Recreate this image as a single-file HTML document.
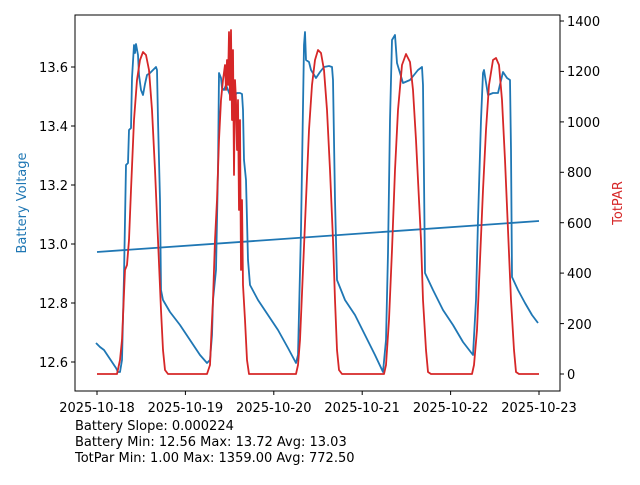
<!DOCTYPE html>
<html><head><meta charset="utf-8"><style>
body{margin:0;background:#fff;}
svg text{font-family:"DejaVu Sans","Liberation Sans",sans-serif;font-size:13px;}
</style></head><body>
<svg width="640" height="480" xmlns="http://www.w3.org/2000/svg">
<rect width="640" height="480" fill="#fff"/>
<g fill="none" stroke-width="1.8" stroke-linejoin="round">
<polyline stroke="#1f77b4" points="96,343 100,347 104,350 108,356 112,362 116,368 118,372 120,372 122,360 124,276 126,165 128,163 129,130 131,128 132,78 134,45 135,53 136,44 138,55 139,75 141,90 143,95 145,84 147,75 150,73 153,70 156,67 157,70 158,120 160,200 161,290 163,300 170,312 180,325 190,340 200,355 207,363 210,360 212,335 213,300 216,270 218,170 219,73 221,78 222,88 224,90 226,85 228,90 230,95 233,97 237,93 240,93 242,94 243,110 244,160 246,180 248,260 250,285 258,300 268,315 278,330 288,348 296,363 298,355 301,230 304,45 305,32 306,60 309,62 311,70 316,78 320,72 324,67 329,66 332,67 333,80 335,200 337,280 345,300 355,315 365,335 375,355 383,372 386,340 388,253 390,120 392,40 395,35 397,63 403,83 410,80 418,70 422,67 423,85 425,273 433,290 443,310 453,325 463,342 473,355 476,300 478,220 481,120 483,73 484,70 488,95 493,93 498,93 503,72 507,78 510,80 511,150 512,277 518,290 525,303 532,315 538,323"/>
<line x1="97" y1="252" x2="539" y2="221" stroke="#1f77b4"/>
<polyline stroke="#d62728" points="97,374 117,374 120,360 122,340 125,270 127,265 129,240 131,190 134,120 137,80 140,60 143,52 146,55 149,70 152,110 155,170 158,240 161,310 163,350 165,370 168,374 207,374 210,365 212,320 213,300 215,240 217,200 219,140 221,100 223,80 225,65 226,90 227,60 228,85 229,32 230,100 231,30 232,120 233,50 234,175 235,80 236,100 237,150 238,100 239,210 240,120 241,270 242,200 243,285 245,320 247,360 249,374 296,374 298,365 300,340 303,270 306,200 309,130 312,85 315,60 318,50 321,53 324,70 327,110 330,170 333,240 335,300 337,350 339,370 342,374 384,374 386,365 389,320 392,250 395,170 398,110 402,65 406,54 410,62 413,90 416,140 419,200 421,240 423,300 426,350 428,372 431,374 472,374 474,365 477,330 480,260 483,190 486,130 489,85 493,60 496,58 499,65 502,100 505,160 508,230 511,300 514,350 516,372 519,374 539,374"/>
</g>
<rect x="75" y="15" width="485" height="376" fill="none" stroke="#000" stroke-width="1"/>
<g stroke="#000" stroke-width="1">
<line x1="71" y1="362" x2="75" y2="362"/><line x1="71" y1="303" x2="75" y2="303"/><line x1="71" y1="244" x2="75" y2="244"/><line x1="71" y1="185" x2="75" y2="185"/><line x1="71" y1="126" x2="75" y2="126"/><line x1="71" y1="67" x2="75" y2="67"/>
<line x1="560" y1="374" x2="564" y2="374"/><line x1="560" y1="323.6" x2="564" y2="323.6"/><line x1="560" y1="273.1" x2="564" y2="273.1"/><line x1="560" y1="222.7" x2="564" y2="222.7"/><line x1="560" y1="172.3" x2="564" y2="172.3"/><line x1="560" y1="121.9" x2="564" y2="121.9"/><line x1="560" y1="71.4" x2="564" y2="71.4"/><line x1="560" y1="21" x2="564" y2="21"/>
<line x1="97" y1="391" x2="97" y2="395"/><line x1="185.4" y1="391" x2="185.4" y2="395"/><line x1="273.8" y1="391" x2="273.8" y2="395"/><line x1="362.2" y1="391" x2="362.2" y2="395"/><line x1="450.6" y1="391" x2="450.6" y2="395"/><line x1="539" y1="391" x2="539" y2="395"/>
</g>
<g text-anchor="end">
<text x="68" y="367">12.6</text><text x="68" y="308">12.8</text><text x="68" y="249">13.0</text><text x="68" y="190">13.2</text><text x="68" y="131">13.4</text><text x="68" y="72">13.6</text>
</g>
<g>
<text x="567" y="379">0</text><text x="567" y="329">200</text><text x="567" y="278">400</text><text x="567" y="228">600</text><text x="567" y="177">800</text><text x="567" y="127">1000</text><text x="567" y="76">1200</text><text x="567" y="26">1400</text>
</g>
<g text-anchor="middle">
<text x="97" y="412">2025-10-18</text><text x="185.4" y="412">2025-10-19</text><text x="273.8" y="412">2025-10-20</text><text x="362.2" y="412">2025-10-21</text><text x="450.6" y="412">2025-10-22</text><text x="539" y="412">2025-10-23</text>
</g>
<text transform="translate(26,203) rotate(-90)" text-anchor="middle" fill="#1f77b4">Battery Voltage</text>
<text transform="translate(622,203) rotate(-90)" text-anchor="middle" fill="#d62728">TotPAR</text>
<text x="75" y="430">Battery Slope: 0.000224</text>
<text x="75" y="446">Battery Min: 12.56 Max: 13.72 Avg: 13.03</text>
<text x="75" y="462">TotPar Min: 1.00 Max: 1359.00 Avg: 772.50</text>
</svg>
</body></html>
